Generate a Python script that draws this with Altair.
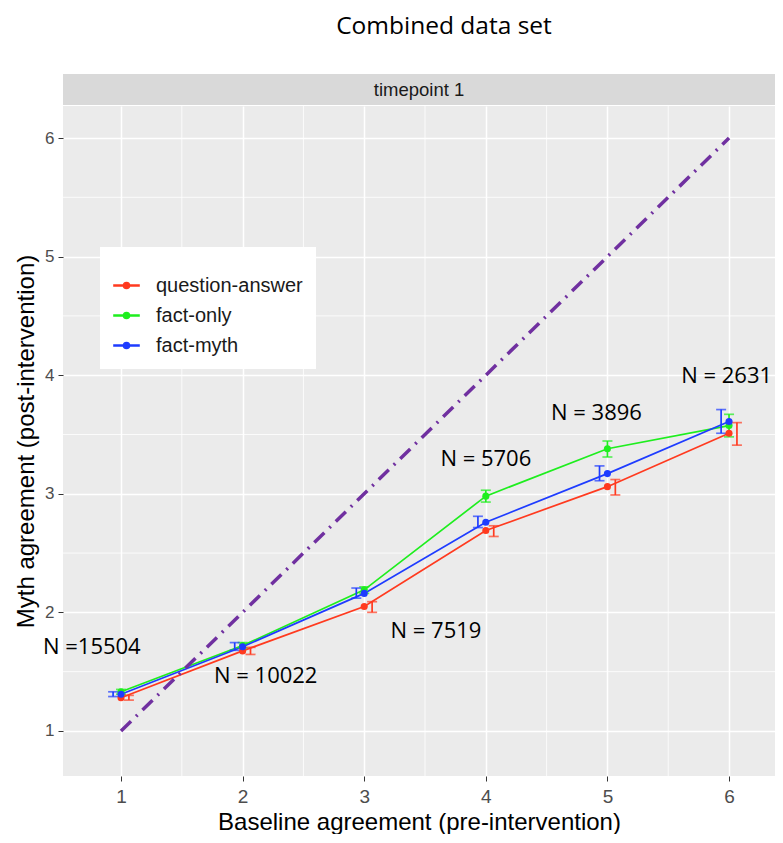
import altair as alt
import pandas as pd

# ---------------- data ----------------
groups = ["question-answer", "fact-only", "fact-myth"]
colors = ["#FF3A1F", "#1EEE1E", "#1E3CFF"]
baseline = [1, 2, 3, 4, 5, 6]

qa_mean = [1.28, 1.675, 2.05, 2.69, 3.06, 3.51]
qa_lo = [1.26, 1.645, 2.00, 2.64, 2.99, 3.41]
qa_hi = [1.30, 1.705, 2.09, 2.73, 3.12, 3.60]

fo_mean = [1.33, 1.72, 2.19, 2.98, 3.38, 3.575]
fo_lo = [1.31, 1.70, 2.16, 2.93, 3.31, 3.48]
fo_hi = [1.35, 1.745, 2.215, 3.03, 3.445, 3.67]

fm_mean = [1.31, 1.71, 2.16, 2.76, 3.17, 3.61]
fm_lo = [1.29, 1.68, 2.12, 2.715, 3.11, 3.51]
fm_hi = [1.33, 1.745, 2.205, 2.81, 3.235, 3.71]

n_labels = ["N =15504", "N = 10022", "N = 7519", "N = 5706", "N = 3896", "N = 2631"]
n_x = [0.76, 2.19, 3.59, 4.00, 4.91, 5.98]
n_y = [1.71, 1.46, 1.84, 3.29, 3.68, 3.99]

diag_x = [1, 6]
diag_y = [1, 6]

major_ticks = [1, 2, 3, 4, 5, 6]
minor_ticks = [1.5, 2.5, 3.5, 4.5, 5.5]

title_text = "Combined data set"
strip_text = "timepoint 1"
x_title = "Baseline agreement (pre-intervention)"
y_title = "Myth agreement (post-intervention)"

# dodge offsets for error bars (style)
dodge = {"question-answer": 0.065, "fact-only": 0.0, "fact-myth": -0.065}

rows = []
for g, m, lo, hi in [
    ("question-answer", qa_mean, qa_lo, qa_hi),
    ("fact-only", fo_mean, fo_lo, fo_hi),
    ("fact-myth", fm_mean, fm_lo, fm_hi),
]:
    for b, mm, l, h in zip(baseline, m, lo, hi):
        rows.append({"group": g, "baseline": b, "mean": mm, "lo": l, "hi": h,
                     "xe": b + dodge[g]})
df = pd.DataFrame(rows)

df_n = pd.DataFrame({"label": n_labels, "x": n_x, "y": n_y})
df_diag = pd.DataFrame({"x": diag_x, "y": diag_y})
df_minor = pd.DataFrame({"m": minor_ticks})
df_strip = pd.DataFrame({"label": [strip_text], "title": [title_text]})

W, H = 712, 670
x_scale = alt.Scale(domain=[0.523, 6.378], nice=False, zero=False)
y_scale = alt.Scale(domain=[0.62, 6.27], nice=False, zero=False)


def X(field):
    return alt.X(f"{field}:Q", scale=x_scale, title=x_title,
                 axis=alt.Axis(values=major_ticks, titlePadding=4,
                               labelPadding=6, labelFontSize=19))


def Y(field):
    return alt.Y(f"{field}:Q", scale=y_scale, title=y_title,
                 axis=alt.Axis(values=major_ticks, titlePadding=6,
                               labelPadding=4, labelFontSize=17))


color_scale = alt.Scale(domain=groups, range=colors)
legend = alt.Legend(title=" ")

minor_x = alt.Chart(df_minor).mark_rule(color="white", strokeWidth=0.8).encode(x=X("m"))
minor_y = alt.Chart(df_minor).mark_rule(color="white", strokeWidth=0.8).encode(y=Y("m"))

lines = alt.Chart(df).mark_line(strokeWidth=1.7).encode(
    x=X("baseline"), y=Y("mean"),
    color=alt.Color("group:N", scale=color_scale, legend=legend),
)

errbars = alt.Chart(df).mark_errorbar(ticks=True, size=10, thickness=1.7).encode(
    x=X("xe"), y=Y("lo"), y2="hi",
    color=alt.Color("group:N", scale=color_scale, legend=legend),
)

points = alt.Chart(df).mark_point(filled=True, size=50, opacity=1).encode(
    x=X("baseline"), y=Y("mean"),
    color=alt.Color("group:N", scale=color_scale, legend=legend),
)

diag = alt.Chart(df_diag).mark_line(color="#7030A0", strokeWidth=3.5,
                                     strokeDash=[14, 7, 2, 7]).encode(
    x=X("x"), y=Y("y"))

ntext = alt.Chart(df_n).mark_text(font="Open Sans", fontSize=22, color="black").encode(
    x=X("x"), y=Y("y"), text="label:N")

strip_rect = alt.Chart(df_strip).mark_rect(color="#D9D9D9").encode(
    x=alt.value(0), x2=alt.value(W), y=alt.value(-32), y2=alt.value(-1))
strip_label = alt.Chart(df_strip).mark_text(
    font="Liberation Sans", fontSize=18.5, color="#1A1A1A").encode(
    x=alt.value(W / 2), y=alt.value(-16), text="label:N")
title_label = alt.Chart(df_strip).mark_text(
    font="Open Sans", fontSize=24.5, color="black").encode(
    x=alt.value(381), y=alt.value(-79), text="title:N")

path = ("M-1,-0.04H1V0.04H-1Z "
        "M0.24,0A0.24,0.24 0 1,1 -0.24,0A0.24,0.24 0 1,1 0.24,0Z")

chart = alt.layer(
    minor_x, minor_y, lines, errbars, points, diag, ntext,
    strip_rect, strip_label, title_label,
).properties(
    width=W, height=H,
    autosize=alt.AutoSizeParams(type="none"),
    padding={"left": 55, "top": 98, "right": 0, "bottom": 58},
).configure_view(
    fill="#EBEBEB", stroke=None
).configure_axis(
    grid=True, gridColor="white", gridWidth=1.5,
    domain=False, tickColor="#333333", tickSize=5, tickWidth=1,
    labelColor="#4D4D4D", labelFont="Liberation Sans",
    titleFont="Liberation Sans", titleFontSize=24, titleColor="black",
    titleFontWeight="normal",
).configure_legend(
    orient="none", legendX=37, legendY=141,
    fillColor="white", padding=13,
    symbolType=path, symbolSize=625, symbolStrokeWidth=1.6,
    symbolOpacity=1,
    labelFont="Liberation Sans", labelFontSize=20, labelColor="#1A1A1A",
    labelOffset=16, rowPadding=6,
    titleFontSize=10, titlePadding=2,
)

chart.save("out.html", embed_options={"renderer": "svg", "actions": False})
